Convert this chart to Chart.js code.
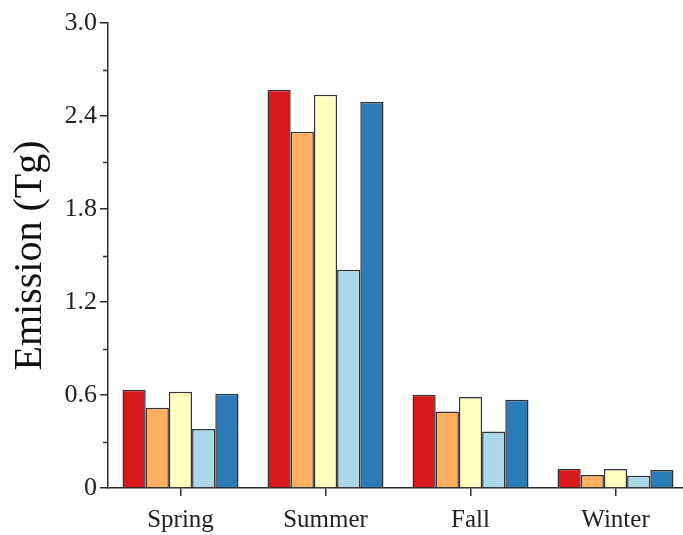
<!DOCTYPE html>
<html>
<head>
<meta charset="utf-8">
<script src="https://cdn.jsdelivr.net/npm/chart.js@4/dist/chart.umd.min.js"></script>
<style>
  html, body { margin: 0; padding: 0; background: #fff; overflow: hidden; width: 683px; height: 535px; }
  #wrap { width: 688px; height: 535px; }
</style>
</head>
<body>
<div id="wrap"><canvas id="c" width="688" height="535"></canvas></div>
<script>
const categories = ['Spring', 'Summer', 'Fall', 'Winter'];
const series1 = [0.634, 2.570, 0.602, 0.125];
const series2 = [0.518, 2.299, 0.494, 0.084];
const series3 = [0.621, 2.537, 0.587, 0.123];
const series4 = [0.381, 1.408, 0.365, 0.079];
const series5 = [0.608, 2.490, 0.570, 0.116];
const colors = ['#d7191c', '#fdae61', '#ffffbf', '#abd9e9', '#2c7bb6'];
const yMajorTicks = [0, 0.6, 1.2, 1.8, 2.4, 3.0];
const yMinorTicks = [0.3, 0.9, 1.5, 2.1, 2.7];

const AXIS = '#2b2b2b';
const FONT = "'Liberation Serif', 'Times New Roman', serif";

const minorTicks = {
  id: 'minorTicks',
  afterDraw(chart) {
    const y = chart.scales.y;
    const ctx = chart.ctx;
    ctx.save();
    ctx.strokeStyle = AXIS;
    ctx.lineWidth = 1.5;
    yMinorTicks.forEach(v => {
      const py = Math.round(y.getPixelForValue(v)) + 0.5;
      ctx.beginPath();
      ctx.moveTo(chart.chartArea.left - 5, py);
      ctx.lineTo(chart.chartArea.left, py);
      ctx.stroke();
    });
    ctx.restore();
  }
};

const seriesList = [series1, series2, series3, series4, series5];
new Chart(document.getElementById('c'), {
  type: 'bar',
  data: {
    labels: categories,
    datasets: seriesList.map((s, i) => ({
      label: 'S' + (i + 1),
      data: s,
      backgroundColor: colors[i],
      borderColor: '#333333',
      borderWidth: 1.5,
      borderSkipped: 'bottom',
      categoryPercentage: 0.8,
      barPercentage: 1.0
    }))
  },
  options: {
    responsive: false,
    animation: false,
    layout: { padding: { top: 23, right: 0, left: 0, bottom: 0 } },
    plugins: { legend: { display: false }, tooltip: { enabled: false } },
    scales: {
      x: {
        offset: true,
        grid: { display: true, offset: false, drawOnChartArea: false, drawTicks: true, tickLength: 8, color: AXIS, lineWidth: 1.5 },
        border: { display: true, color: AXIS, width: 1.5 },
        ticks: { color: '#222', font: { family: FONT, size: 25 }, padding: 9 },
        afterFit(scale) { scale.height = 47; }
      },
      y: {
        min: 0,
        max: 3.0,
        afterBuildTicks(scale) { scale.ticks = yMajorTicks.map(v => ({ value: v })); },
        grid: { display: true, drawOnChartArea: false, drawTicks: true, tickLength: 8, color: AXIS, lineWidth: 1.5 },
        border: { display: true, color: AXIS, width: 1.5 },
        ticks: {
          color: '#222',
          font: { family: FONT, size: 26 },
          padding: 3,
          callback: v => (v === 0 ? '0' : Number(v).toFixed(1))
        },
        title: {
          display: true,
          text: 'Emission (Tg)',
          color: '#111',
          font: { family: FONT, size: 40 },
          padding: { top: 6, bottom: 0 }
        },
        afterFit(scale) { scale.width = 108; }
      }
    }
  },
  plugins: [minorTicks]
});
</script>
</body>
</html>
